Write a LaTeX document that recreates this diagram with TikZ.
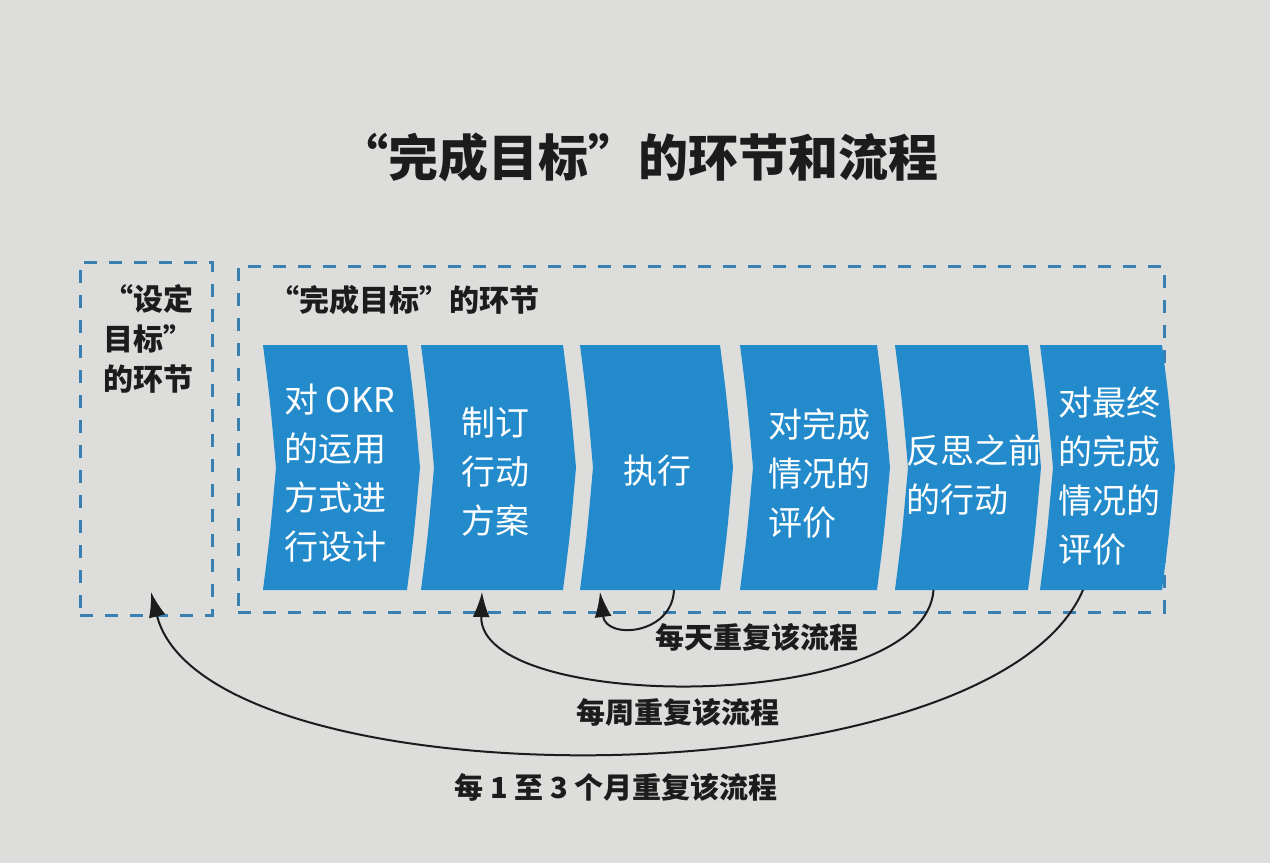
\documentclass[tikz,border=0pt]{standalone}
\usepackage{fontspec}
\setmainfont{Noto Sans CJK SC}
\usetikzlibrary{arrows.meta,calc}
\definecolor{paper}{HTML}{DDDDDB}
\definecolor{chev}{HTML}{238BCB}
\definecolor{dashc}{HTML}{3A7FB2}
\definecolor{ink}{HTML}{1C1C1C}
\newcommand\chevpath[1]{%
  \fill[chev] (#1.north west) -- (#1.north east)
    .. controls ($(#1.north east)!0.45!(#1.east)+(7,0)$) .. ($(#1.east)+(13,0)$)
    .. controls ($(#1.south east)!0.45!(#1.east)+(7,0)$) .. (#1.south east)
    -- (#1.south west)
    .. controls ($(#1.south west)!0.45!(#1.west)+(7,0)$) .. ($(#1.west)+(13,0)$)
    .. controls ($(#1.north west)!0.45!(#1.west)+(7,0)$) .. (#1.north west) -- cycle;}
\begin{document}
\begin{tikzpicture}[x=1pt,y=-1pt,
  shapebox/.style={inner sep=0, outer sep=0, minimum height=245, draw=none},
  boxtext/.style={text=white, font=\fontsize{34}{49}\selectfont, align=left, inner sep=0, anchor=west},
  dashbox/.style={draw=dashc, line width=3, dash pattern=on 13pt off 12pt, inner sep=0, outer sep=0},
  lbl/.style={text=ink, font=\bfseries\fontsize{30}{40}\selectfont, align=left, inner sep=0},
  looplbl/.style={text=ink, font=\bfseries\fontsize{29}{36}\selectfont, inner sep=0},
  loop/.style={draw=ink, line width=2, -{Latex[length=25pt,width=17pt]}}
]
\fill[paper] (0,0) rectangle (1270,863);
\useasboundingbox (0,0) rectangle (1270,863);

% title
\node[text=ink, font=\bfseries\fontsize{50}{56}\selectfont, inner sep=0] (title) at (638,157) {“完成目标”的环节和流程};

% dashed boxes
\node[dashbox, minimum width=132, minimum height=353] (lbox) at (146,438.5) {};
\node[dashbox, minimum width=926, minimum height=346] (rbox) at (701,439) {};

\node[lbl, anchor=west] (llbl) at (103,339) {“设定\\目标”\\的环节};
\node[lbl, anchor=west] (rlbl) at (269,300) {“完成目标”的环节};

% chevron shapes
\node[shapebox, minimum width=144] (s1) at (335,467.5) {};
\node[shapebox, minimum width=142] (s2) at (492,467.5) {};
\node[shapebox, minimum width=140] (s3) at (650,467.5) {};
\node[shapebox, minimum width=137] (s4) at (808.5,467.5) {};
\node[shapebox, minimum width=133] (s5) at (961.5,467.5) {};
\node[shapebox, minimum width=122] (s6) at (1101,467.5) {};
\chevpath{s1}\chevpath{s2}\chevpath{s3}\chevpath{s4}\chevpath{s5}\chevpath{s6}

\node[boxtext] (t1) at (284,473) {对 OKR\\的运用\\方式进\\行设计};
\node[boxtext] (t2) at (461,472) {制订\\行动\\方案};
\node[boxtext] (t3) at (623,471) {执行};
\node[boxtext] (t4) at (768,474) {对完成\\情况的\\评价};
\node[boxtext] (t5) at (906,475) {反思之前\\的行动};
\node[boxtext] (t6) at (1058,476) {对最终\\的完成\\情况的\\评价};

% loops
\draw[loop] ($(s3.south)+(24,0)$) .. controls (672,635) and (606,640) .. ($(s3.south)+(-50,2)$);
\draw[loop] ($(s5.south)+(-28,0)$) .. controls (925,714) and (478,714) .. ($(s2.south)+(-10,2)$);
\draw[loop] ($(s6.south)+(-18,0)$) .. controls (990,806) and (205,806) .. ($(lbox.south)+(5,-23)$);

\node[looplbl] (d) at (757,637) {每天重复该流程};
\node[looplbl] (w) at (678,712) {每周重复该流程};
\node[looplbl] (m) at (616,787) {每 1 至 3 个月重复该流程};
\end{tikzpicture}
\end{document}
